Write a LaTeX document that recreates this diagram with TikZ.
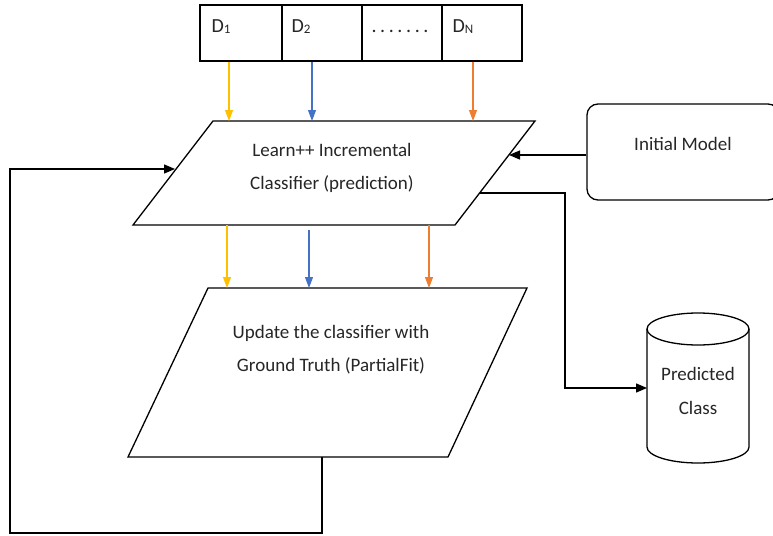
\documentclass[tikz,border=0pt]{standalone}
\usepackage{fontspec}
\setmainfont{Carlito}
\usetikzlibrary{arrows.meta}
\definecolor{cyel}{HTML}{FFC000}
\definecolor{cblu}{HTML}{4472C4}
\definecolor{corg}{HTML}{ED7D31}
\definecolor{ink}{HTML}{262626}
\newcommand\dk{\kern3.6pt}
\begin{document}
\begin{tikzpicture}[x=1pt,y=-1pt,
  outline/.style={draw=black, line width=1.3pt, line join=miter},
  blk/.style={-{Triangle[length=11pt,width=9pt]}, line width=1.3pt},
  col/.style={-{Triangle[length=11pt,width=8pt]}, line width=1.1pt},
  txt/.style={font=\fontsize{19}{33}\selectfont, text=ink, align=center, inner sep=0pt},
  cell/.style={draw, line width=1.3pt, minimum height=56pt, inner sep=0pt},
  dlab/.style={font=\fontsize{20}{24}\selectfont, text=ink, anchor=base west, inner sep=0pt}]
\useasboundingbox (0,0) rectangle (773,535);

% data strip
\node[cell, minimum width=82pt] (c1) at (241,33) {};
\node[cell, minimum width=80pt] (c2) at (322,33) {};
\node[cell, minimum width=80pt] (c3) at (402,33) {};
\node[cell, minimum width=80pt] (c4) at (482,33) {};
\node[dlab] (d1) at ([xshift=12pt]c1.west) {D{\fontsize{13}{13}\selectfont\lower1pt\hbox{1}}};
\node[dlab] (d2) at ([xshift=10pt]c2.west) {D{\fontsize{13}{13}\selectfont\lower1pt\hbox{2}}};
\node[dlab] (d3) at ([xshift=10pt]c3.west) {.\dk.\dk.\dk.\dk.\dk.\dk.};
\node[dlab] (d4) at ([xshift=11pt]c4.west) {D{\fontsize{13}{13}\selectfont\lower1pt\hbox{N}}};

% Learn++ parallelogram
\coordinate (L1) at (213,121);
\coordinate (L2) at (535,121);
\coordinate (L3) at (455,225);
\coordinate (L4) at (133,225);
\draw[outline, fill=white] (L1) -- (L2) -- (L3) -- (L4) -- cycle;
\node[txt] (learn) at (332,168) {Learn++ Incremental\\Classifier (prediction)};

% Update parallelogram
\coordinate (U1) at (208,288);
\coordinate (U2) at (527,288);
\coordinate (U3) at (448,457);
\coordinate (U4) at (128,457);
\draw[outline, fill=white] (U1) -- (U2) -- (U3) -- (U4) -- cycle;
\node[txt] (update) at (331,350) {Update the classifier with\\Ground Truth (PartialFit)};

% Initial model
\node[draw, line width=1.3pt, rounded corners=11pt, minimum width=192pt, minimum height=96pt,
  font=\fontsize{19}{23}\selectfont, text=ink, text depth=17pt] (init) at (683,152) {Initial Model};

% Predicted class cylinder
\draw[outline, fill=white] (647,329) -- (647,447)
  .. controls (647,455.8) and (669.8,463) .. (698,463)
  .. controls (726.2,463) and (749,455.8) .. (749,447) -- (749,329);
\draw[outline] (698,329) ellipse [x radius=51pt, y radius=16pt];
\node[txt, font=\fontsize{19}{34}\selectfont] (pred) at (698,391) {Predicted\\Class};
\coordinate (cylW) at (647,388);

% colored arrows strip -> learn
\coordinate (ty) at (229,121);
\coordinate (tb) at (312,121);
\coordinate (to) at (473,121);
\draw[col, cyel] (ty |- c1.south) -- (ty);
\draw[col, cblu] (tb |- c2.south) -- (tb);
\draw[col, corg] (to |- c4.south) -- (to);

% colored arrows learn -> update
\coordinate (by) at (227,288);
\coordinate (bb) at (309,288);
\coordinate (bo) at (429,288);
\draw[col, cyel] (by |- L4) -- (by);
\draw[col, cblu] ([yshift=-5pt]bb |- L4) -- (bb);
\draw[col, corg] (bo |- L4) -- (bo);

% initial model -> learn
\coordinate (lr) at (509,155);
\draw[blk] (init.west |- lr) -- (lr);

% learn -> predicted class
\coordinate (lo) at (480,193);
\coordinate (k1) at (565,193);
\draw[line width=1.3pt, -{Triangle[length=11pt,width=9pt]}] (lo) -- (k1) |- (cylW);

% feedback loop
\coordinate (ub) at (322,457);
\coordinate (f1) at (322,533);
\coordinate (f2) at (10,533);
\coordinate (f3) at (10,169);
\coordinate (ll) at (175,169);
\draw[blk, line join=miter] (ub) -- (f1) -- (f2) -- (f3) -- (ll);
\end{tikzpicture}
\end{document}
